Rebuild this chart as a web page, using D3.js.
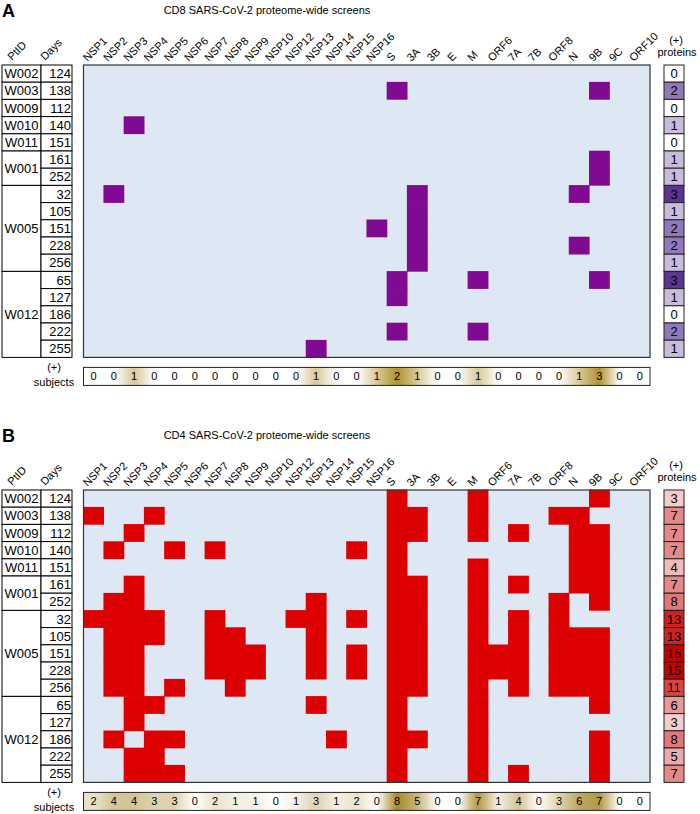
<!DOCTYPE html>
<html>
<head>
<meta charset="utf-8">
<script src="https://cdn.jsdelivr.net/npm/d3@7"></script>
<style>
  body { margin: 0; background: #fff; }
  svg { display: block; font-family: "Liberation Sans", Arial, sans-serif; }
</style>
</head>
<body>
<script>
// columns of the heatmap
const proteins = ["NSP1", "NSP2", "NSP3", "NSP4", "NSP5", "NSP6", "NSP7", "NSP8", "NSP9", "NSP10",
    "NSP12", "NSP13", "NSP14", "NSP15", "NSP16", "S", "3A", "3B", "E", "M", "ORF6", "7A", "7B",
    "ORF8", "N", "9B", "9C", "ORF10"];

// rows (same in both panels)
const ptids = ["W002", "W003", "W009", "W010", "W011", "W001", "W001",
    "W005", "W005", "W005", "W005", "W005", "W012", "W012", "W012", "W012", "W012"];
const days = [124, 138, 112, 140, 151, 161, 252, 32, 105, 151, 228, 256, 65, 127, 186, 222, 255];

// positive proteins per row, CD8
const cd8Hits = [
    [], ["S", "9B"], [], ["NSP3"], [], ["9B"], ["9B"],
    ["NSP2", "3A", "N"], ["3A"], ["NSP16", "3A"], ["3A", "N"], ["3A"],
    ["S", "M", "9B"], ["S"], [], ["S", "M"], ["NSP13"]
];
const cd8Proteins = [0, 2, 0, 1, 0, 1, 1, 3, 1, 2, 2, 1, 3, 1, 0, 2, 1];
const cd8Subjects = [0, 0, 1, 0, 0, 0, 0, 0, 0, 0, 0, 1, 0, 0, 1, 2, 1, 0, 0, 1, 0, 0, 0, 0, 1, 3, 0, 0];

// positive proteins per row, CD4
const cd4Hits = [
    ["S", "M", "9B"],
    ["NSP1", "NSP4", "S", "3A", "M", "ORF8", "N"],
    ["NSP3", "S", "3A", "M", "7A", "N", "9B"],
    ["NSP2", "NSP5", "NSP7", "NSP15", "S", "N", "9B"],
    ["S", "M", "N", "9B"],
    ["NSP3", "S", "3A", "M", "7A", "N", "9B"],
    ["NSP2", "NSP3", "NSP13", "S", "3A", "M", "ORF8", "9B"],
    ["NSP1", "NSP2", "NSP3", "NSP4", "NSP7", "NSP12", "NSP13", "NSP15", "S", "3A", "M", "7A", "ORF8"],
    ["NSP2", "NSP3", "NSP4", "NSP7", "NSP8", "NSP13", "S", "3A", "M", "7A", "ORF8", "N", "9B"],
    ["NSP2", "NSP3", "NSP7", "NSP8", "NSP9", "NSP13", "NSP15", "S", "3A", "M", "ORF6", "7A", "ORF8", "N", "9B"],
    ["NSP2", "NSP3", "NSP7", "NSP8", "NSP9", "NSP13", "NSP15", "S", "3A", "M", "ORF6", "7A", "ORF8", "N", "9B"],
    ["NSP2", "NSP3", "NSP5", "NSP8", "S", "3A", "M", "7A", "ORF8", "N", "9B"],
    ["NSP3", "NSP4", "NSP13", "S", "M", "9B"],
    ["NSP3", "S", "M"],
    ["NSP2", "NSP4", "NSP5", "NSP14", "S", "3A", "M", "9B"],
    ["NSP3", "NSP4", "S", "M", "9B"],
    ["NSP3", "NSP4", "NSP5", "S", "M", "7A", "9B"]
];
const cd4Proteins = [3, 7, 7, 7, 4, 7, 8, 13, 13, 15, 15, 11, 6, 3, 8, 5, 7];
const cd4Subjects = [2, 4, 4, 3, 3, 0, 2, 1, 1, 0, 1, 3, 1, 2, 0, 8, 5, 0, 0, 7, 1, 4, 0, 3, 6, 7, 0, 0];

const W = 700, H = 814;
const gridLeft = 83.5, gridRight = 650;
const rowH = 17.2;

const svg = d3.select('body').append('svg')
    .attr('width', W)
    .attr('height', H);

svg.append('rect').attr('width', W).attr('height', H).attr('fill', '#fff');
const defs = svg.append('defs');

const x = d3.scaleBand().domain(proteins).range([gridLeft, gridRight]);

function panel(cfg) {
    const top = cfg.top;
    const g = svg.append('g');
    const y = d3.scaleBand().domain(d3.range(days.length)).range([top, top + rowH * days.length]);
    const bottom = top + rowH * days.length;

    // panel letter and title
    g.append('text')
        .attr('x', 2).attr('y', top - 48.5)
        .attr('font-size', 18).attr('font-weight', 'bold')
        .text(cfg.letter);
    g.append('text')
        .attr('x', 267).attr('y', top - 51.5)
        .attr('text-anchor', 'middle')
        .attr('font-size', 11)
        .text(cfg.title);

    // table headers
    [['PtID', 12], ['Days', 45]].forEach(([t, hx]) => {
        g.append('text')
            .attr('transform', `translate(${hx},${top - 4}) rotate(-45)`)
            .attr('font-size', 11)
            .text(t);
    });

    // column labels
    g.append('g').selectAll('text')
        .data(proteins)
        .join('text')
        .attr('transform', d => `translate(${x(d) + 4},${top - 3}) rotate(-45)`)
        .attr('font-size', 11)
        .text(d => d);

    // PtID groups (consecutive runs)
    const groups = [];
    ptids.forEach((p, i) => {
        const last = groups[groups.length - 1];
        if (last && last.id === p) last.n++;
        else groups.push({ id: p, start: i, n: 1 });
    });
    const table = g.append('g');
    table.selectAll('rect.pt')
        .data(groups)
        .join('rect')
        .attr('class', 'pt')
        .attr('x', 2).attr('y', d => y(d.start))
        .attr('width', 39).attr('height', d => d.n * rowH)
        .attr('fill', '#fff').attr('stroke', '#000').attr('stroke-width', 1);
    table.selectAll('text.pt')
        .data(groups)
        .join('text')
        .attr('class', 'pt')
        .attr('x', 21.5).attr('y', d => y(d.start) + d.n * rowH / 2 + 4.6)
        .attr('text-anchor', 'middle')
        .attr('font-size', 13)
        .text(d => d.id);
    table.selectAll('rect.day')
        .data(days)
        .join('rect')
        .attr('class', 'day')
        .attr('x', 41).attr('y', (d, i) => y(i))
        .attr('width', 31).attr('height', rowH)
        .attr('fill', '#fff').attr('stroke', '#000').attr('stroke-width', 1);
    table.selectAll('text.day')
        .data(days)
        .join('text')
        .attr('class', 'day')
        .attr('x', 71).attr('y', (d, i) => y(i) + rowH / 2 + 4.6)
        .attr('text-anchor', 'end')
        .attr('font-size', 13)
        .text(d => d);

    // heatmap
    g.append('rect')
        .attr('x', gridLeft).attr('y', top)
        .attr('width', gridRight - gridLeft).attr('height', bottom - top)
        .attr('fill', '#dee7f4');
    const cells = [];
    cfg.hits.forEach((list, i) => list.forEach(p => cells.push({ row: i, p })));
    g.append('g').selectAll('rect')
        .data(cells)
        .join('rect')
        .attr('x', d => x(d.p) - 0.3).attr('y', d => y(d.row) - 0.3)
        .attr('width', x.bandwidth() + 0.6).attr('height', y.bandwidth() + 0.6)
        .attr('fill', cfg.hitColor);
    g.append('rect')
        .attr('x', gridLeft).attr('y', top)
        .attr('width', gridRight - gridLeft).attr('height', bottom - top)
        .attr('fill', 'none').attr('stroke', '#333').attr('stroke-width', 1.2);

    // (+) proteins column
    g.append('text').attr('x', 676).attr('y', top - 21)
        .attr('text-anchor', 'middle').attr('font-size', 11).text('(+)');
    g.append('text').attr('x', 677).attr('y', top - 9)
        .attr('text-anchor', 'middle').attr('font-size', 11).text('proteins');
    const pc = d3.scaleLinear().domain(cfg.protDomain).range(['#ffffff', cfg.protColor]);
    g.append('g').selectAll('rect')
        .data(cfg.prot)
        .join('rect')
        .attr('x', 664).attr('y', (d, i) => y(i))
        .attr('width', 20).attr('height', rowH)
        .attr('fill', d => pc(d)).attr('stroke', '#222').attr('stroke-width', 1);
    g.append('g').selectAll('text')
        .data(cfg.prot)
        .join('text')
        .attr('x', 674).attr('y', (d, i) => y(i) + rowH / 2 + 4.6)
        .attr('text-anchor', 'middle').attr('font-size', 13)
        .text(d => d);

    // (+) subjects bar, neighbouring cells blend softly like the source image
    const sTop = bottom + 10, sH = 18;
    g.append('text').attr('x', 54).attr('y', sTop + 4)
        .attr('text-anchor', 'middle').attr('font-size', 11).text('(+)');
    g.append('text').attr('x', 54).attr('y', sTop + 19)
        .attr('text-anchor', 'middle').attr('font-size', 11).text('subjects');
    const sc = d3.scaleLinear().domain(cfg.subjDomain).range(['#ffffff', cfg.subjColor]).clamp(true);
    const cols = cfg.subj.map(v => sc(v));
    cols.forEach((c, i) => {
        const left = d3.interpolateRgb(cols[i - 1] || c, c)(0.5);
        const right = d3.interpolateRgb(c, cols[i + 1] || c)(0.5);
        const grad = defs.append('linearGradient').attr('id', `sg${cfg.letter}${i}`);
        grad.append('stop').attr('offset', '0%').attr('stop-color', left);
        grad.append('stop').attr('offset', '50%').attr('stop-color', c);
        grad.append('stop').attr('offset', '100%').attr('stop-color', right);
    });
    g.append('g').selectAll('rect')
        .data(cfg.subj)
        .join('rect')
        .attr('x', (d, i) => x(proteins[i]) - 0.3).attr('y', sTop)
        .attr('width', x.bandwidth() + 0.6).attr('height', sH)
        .attr('fill', (d, i) => `url(#sg${cfg.letter}${i})`);
    g.append('g').selectAll('text')
        .data(cfg.subj)
        .join('text')
        .attr('x', (d, i) => x(proteins[i]) + x.bandwidth() / 2).attr('y', sTop + sH / 2 + 4)
        .attr('text-anchor', 'middle').attr('font-size', 11)
        .text(d => d);
    g.append('rect')
        .attr('x', gridLeft).attr('y', sTop)
        .attr('width', gridRight - gridLeft).attr('height', sH)
        .attr('fill', 'none').attr('stroke', '#222').attr('stroke-width', 1);
}

panel({
    letter: 'A', title: 'CD8 SARS-CoV-2 proteome-wide screens', top: 65,
    hits: cd8Hits, hitColor: '#800a92',
    prot: cd8Proteins, protDomain: [0, 3], protColor: '#5a3591',
    subj: cd8Subjects, subjDomain: [0, 2], subjColor: '#b39332'
});

panel({
    letter: 'B', title: 'CD4 SARS-CoV-2 proteome-wide screens', top: 490,
    hits: cd4Hits, hitColor: '#dd0000',
    prot: cd4Proteins, protDomain: [0, 15], protColor: '#c80000',
    subj: cd4Subjects, subjDomain: [0, 8], subjColor: '#a88a2a'
});
</script>
</body>
</html>
